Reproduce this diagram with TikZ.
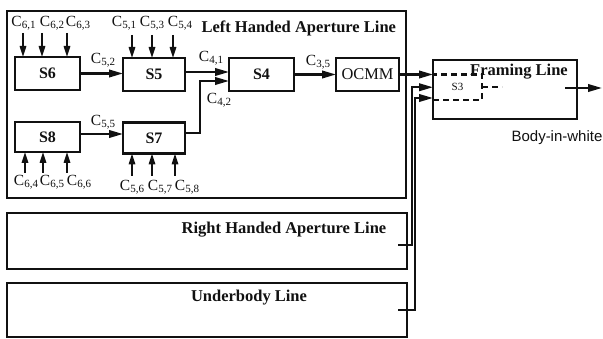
\documentclass[tikz,border=0pt]{standalone}
\usepackage{fontspec}
\setmainfont{Liberation Serif}
\newfontfamily\bwsans{Liberation Sans}
\usepackage{tikz}
\usetikzlibrary{positioning,arrows.meta,calc}
\definecolor{ink}{HTML}{111111}
\newcommand{\cc}[1]{C\raisebox{-1.5pt}{\fontsize{11}{12}\selectfont #1}}
\newcommand{\ttlf}{\fontsize{16.5}{19}\selectfont\bfseries}
\newcommand{\stf}{\fontsize{16}{18}\selectfont\bfseries}
\newcommand{\ocf}{\fontsize{16.4}{18}\selectfont}
\newcommand{\lbl}{\fontsize{15.5}{17}\selectfont}
\newcommand{\sml}{\fontsize{11}{13}\selectfont}

\begin{document}
\begin{tikzpicture}[
  x=1pt, y=-1pt, text=ink, font=\lbl,
  st/.style={draw=ink, line width=2.6pt, minimum height=33pt, inner sep=0pt, outer sep=0pt, font=\stf},
  grp/.style={draw=ink, line width=2.6pt, inner sep=0pt, outer sep=0pt, anchor=north west},
  sthree/.style={draw=ink, line width=2.2pt, dash pattern=on 6pt off 4pt, inner sep=0pt, outer sep=0pt, font=\sml},
  arr/.style={-{Triangle[length=14pt,width=7.5pt]}, line width=2.2pt, draw=ink},
  inp/.style={-{Triangle[length=11pt,width=6.5pt]}, line width=1.6pt, draw=ink},
]
\useasboundingbox (0,0) rectangle (603,339);
% ---------------- left handed aperture line ----------------
\node[grp, minimum width=399pt, minimum height=187pt] (lhal) at (7,11) {};
\node[anchor=west, font=\ttlf] (lhalt) at (198,28) {Left Handed Aperture Line};
\node[st, minimum width=65pt] (s6) at (47.5,73.5) {S6};
\node[st, minimum width=62pt] (s5) at (154,74.5) {S5};
\node[st, minimum width=65pt] (s4) at (261.5,74.5) {S4};
\node[st, minimum width=63pt, font=\ocf] (ocmm) at (367.5,74.5) {OCMM};
\node[st, minimum width=65pt, minimum height=30pt] (s8) at (47.5,137) {S8};
\node[st, minimum width=62pt, minimum height=31pt] (s7) at (154,138) {S7};
% inputs from above and below
\node (c61) at (23.5,23) {\cc{6,1}};
\node (c62) at (52,23) {\cc{6,2}};
\node (c63) at (78,23) {\cc{6,3}};
\node (c51) at (124,23) {\cc{5,1}};
\node (c53) at (152,23) {\cc{5,3}};
\node (c54) at (180,23) {\cc{5,4}};
\node (c64) at (26,182) {\cc{6,4}};
\node (c65) at (52,182) {\cc{6,5}};
\node (c66) at (79,182) {\cc{6,6}};
\node (c56) at (132,187) {\cc{5,6}};
\node (c57) at (160,187) {\cc{5,7}};
\node (c58) at (187,187) {\cc{5,8}};
\coordinate (a61) at (23,33); \coordinate (a62) at (42,33); \coordinate (a63) at (67,33);
\coordinate (a51) at (132,35); \coordinate (a53) at (152,35); \coordinate (a54) at (173,35);
\coordinate (a64) at (25,173); \coordinate (a65) at (43,173); \coordinate (a66) at (67,173);
\coordinate (a56) at (132,176); \coordinate (a57) at (152,176); \coordinate (a58) at (175,176);
\draw[inp] (a61) -- (a61 |- s6.north); \draw[inp] (a62) -- (a62 |- s6.north); \draw[inp] (a63) -- (a63 |- s6.north);
\draw[inp] (a51) -- (a51 |- s5.north); \draw[inp] (a53) -- (a53 |- s5.north); \draw[inp] (a54) -- (a54 |- s5.north);
\draw[inp] (a64) -- (a64 |- s8.south); \draw[inp] (a65) -- (a65 |- s8.south); \draw[inp] (a66) -- (a66 |- s8.south);
\draw[inp] (a56) -- (a56 |- s7.south); \draw[inp] (a57) -- (a57 |- s7.south); \draw[inp] (a58) -- (a58 |- s7.south);
% flows between stations
\coordinate (s4a) at ($(s4.west)+(0,-2.5)$);
\coordinate (s4b) at ($(s4.west)+(0,6.5)$);
\draw[arr] (s6.east) -- (s6.east -| s5.west);
\draw[arr] (s8.east |- 0,134) -- (s7.west |- 0,134);
\draw[arr] (s5.east |- s4a) -- (s4a);
\draw[arr] (s7.east |- 0,133) -- ++(15,0) |- (s4b);
\draw[arr] (s4) -- (ocmm);
\node (c52) at (103,60) {\cc{5,2}};
\node (c55) at (103,122) {\cc{5,5}};
\node (c41) at (211,58) {\cc{4,1}};
\node (c42) at (219,100) {\cc{4,2}};
\node (c35) at (318,62) {\cc{3,5}};

% ---------------- right handed and underbody lines ----------------
\node[grp, minimum width=400pt, minimum height=56pt] (rhal) at (7,213) {};
\node[font=\ttlf] (rhalt) at (284,230) {Right Handed Aperture Line};
\node[grp, minimum width=400pt, minimum height=54pt] (ubl) at (7,283) {};
\node[font=\ttlf] (ublt) at (249,298) {Underbody Line};

% ---------------- framing line ----------------
\node[grp, minimum width=144pt, minimum height=59pt] (frl) at (433,60) {};
\node[sthree, minimum width=49pt, minimum height=25.5pt] (s3) at (457.5,87.25) {S3};
\draw[sthree] (s3.east) -- ++(20,0);
\node[font=\ttlf] (frlt) at (519,72) {Framing Line};
\draw[arr] (ocmm.east) -- (ocmm.east -| s3.west);
\coordinate (rho) at ($(rhal.east)+(-9,4)$);
\coordinate (ubo) at ($(ubl.east)+(-9,0)$);
\draw[arr] (rho) -- ++(14,0) |- (s3.west);
\draw[arr] (ubo) -- ++(17,0) |- ($(s3.south west)+(0,-2)$);
\coordinate (bw) at (602,0);
\draw[arr] ($(frl.east)+(-12,-1.5)$) -- (bw |- 0,88);
\node[font=\bwsans\fontsize{15}{17}\selectfont] (bwt) at (557,138) {Body-in-white};
\end{tikzpicture}
\end{document}
